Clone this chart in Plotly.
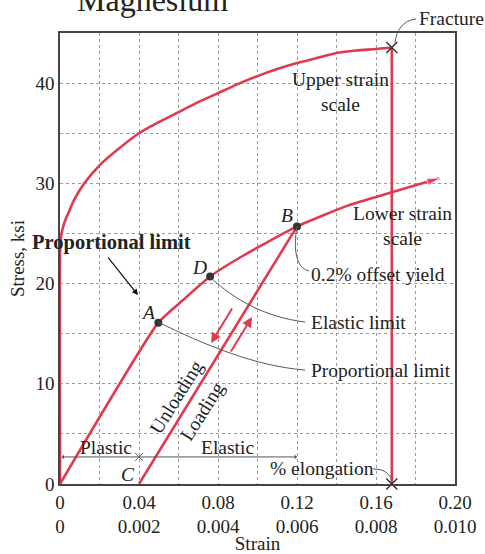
import plotly.graph_objects as go

RED = "#e03a4f"
INK = "#222222"
LEAD = "#5a5a5a"
GRID = "#9a9a9a"
FONT = "Liberation Serif"

# Upper strain scale (0 - 0.20): whole curve up to fracture
upper_strain = [0, 0, 0.0005, 0.0015, 0.003, 0.0042, 0.007, 0.0123, 0.02, 0.03,
                0.04, 0.05, 0.06, 0.07, 0.08, 0.09, 0.10, 0.11, 0.12, 0.13,
                0.14, 0.15, 0.16, 0.168]
upper_stress = [0, 23.0, 24.6, 25.6, 26.5, 27.0, 28.3, 30.0, 31.8, 33.5,
                35.0, 36.1, 37.1, 38.1, 39.0, 39.9, 40.7, 41.4, 42.0, 42.5,
                43.0, 43.25, 43.4, 43.55]

# Lower strain scale (0 - 0.010): initial part of the curve
lower_strain = [0, 0.00249, 0.0031, 0.0038, 0.0046, 0.0060, 0.0073, 0.0084, 0.0096]
lower_stress = [0, 16.1, 18.3, 20.7, 22.7, 25.7, 27.8, 29.1, 30.5]

# Marked points on the lower-scale curve
point_names = ["A", "D", "B"]
point_strain = [0.00249, 0.0038, 0.0060]
point_stress = [16.1, 20.7, 25.7]

# 0.2% offset line: unloading / reloading from C to B
offset_strain = [0.002, 0.0060]
offset_stress = [0, 25.7]

# Fracture (upper scale)
fracture_strain = 0.168
fracture_stress = 43.55

# Elongation bracket
bracket_stress = 2.7
bracket_end = 0.12
bracket_mark = 0.04

# Axis ticks
upper_ticks = [0, 0.04, 0.08, 0.12, 0.16, 0.20]
upper_tick_text = ["0", "0.04", "0.08", "0.12", "0.16", "0.20"]
lower_tick_text = ["0", "0.002", "0.004", "0.006", "0.008", "0.010"]
stress_ticks = [0, 10, 20, 30, 40]

fig = go.Figure()

# upper-scale curve
fig.add_trace(go.Scatter(
    x=upper_strain, y=upper_stress, mode="lines",
    line=dict(color=RED, width=2.6, shape="spline", smoothing=0.6),
    hoverinfo="skip"))

# drop line at fracture
fig.add_trace(go.Scatter(
    x=[fracture_strain, fracture_strain], y=[0, fracture_stress], mode="lines",
    line=dict(color=RED, width=2.6), hoverinfo="skip"))

# lower-scale curve, ending in an arrow head
n = len(lower_strain)
fig.add_trace(go.Scatter(
    x=lower_strain, y=lower_stress, xaxis="x2", mode="lines+markers",
    line=dict(color=RED, width=2.6, shape="spline", smoothing=0.5),
    marker=dict(symbol=["circle"] * (n - 1) + ["arrow"],
                size=[0] * (n - 1) + [13], color=RED, angleref="previous"),
    hoverinfo="skip"))

# offset line C-B
fig.add_trace(go.Scatter(
    x=offset_strain, y=offset_stress, xaxis="x2", mode="lines",
    line=dict(color=RED, width=2.6), hoverinfo="skip"))

# points A, D, B
fig.add_trace(go.Scatter(
    x=point_strain, y=point_stress, xaxis="x2", mode="markers",
    marker=dict(color="#333333", size=8), hoverinfo="skip"))

# fracture crosses
fig.add_trace(go.Scatter(
    x=[fracture_strain, fracture_strain], y=[fracture_stress, 0], mode="markers",
    marker=dict(symbol="x-thin-open", size=11, color="#333333",
                line=dict(color="#333333", width=1.5)),
    cliponaxis=False, hoverinfo="skip"))

# small cross on the elongation bracket
fig.add_trace(go.Scatter(
    x=[bracket_mark], y=[bracket_stress], mode="markers",
    marker=dict(symbol="x-thin-open", size=8, color="#666666",
                line=dict(color="#666666", width=1)),
    hoverinfo="skip"))

# leader lines from the labels to the curve
leaders = [
    "M 0.0496,16.16 C 0.0734,13.87 0.0987,11.77 0.1241,11.37",   # A
    "M 0.0759,20.65 C 0.0886,18.35 0.1038,16.66 0.1241,16.16",   # D
    "M 0.1200,25.74 C 0.1180,23.34 0.1195,21.55 0.1261,21.25",   # B
    "M 0.1585,1.50 C 0.1646,1.50 0.1671,1.00 0.1686,0.10",       # elongation
]
shapes = [dict(type="path", path=p, xref="x", yref="y",
               line=dict(color=LEAD, width=1)) for p in leaders]
shapes.append(dict(type="path", xref="paper", yref="paper",
                   path="M 0.9013,1.0310 C 0.8684,1.0288 0.8506,1.0044 0.8481,0.9778",
                   line=dict(color=LEAD, width=1)))

def text(x, y, s, size=19.5, **kw):
    kw.setdefault("xanchor", "center")
    kw.setdefault("yanchor", "middle")
    return dict(x=x, y=y, text=s, showarrow=False,
                font=dict(family=FONT, size=size, color=INK), **kw)

ann = [
    text(0.1418, 39.1, "Upper strain<br>scale"),
    text(0.1732, 25.7, "Lower strain<br>scale"),
    text(0.1261, 20.95, "0.2% offset yield", xanchor="left"),
    text(0.1261, 16.16, "Elastic limit", xanchor="left"),
    text(0.1261, 11.37, "Proportional limit", xanchor="left"),
    text(0.0446, 17.16, "<i>A</i>"),
    text(0.0704, 21.65, "<i>D</i>"),
    text(0.1149, 26.83, "<i>B</i>"),
    text(0.0344, 0.9, "<i>C</i>"),
    text(0.0233, 3.69, "Plastic"),
    text(0.0846, 3.69, "Elastic"),
    text(0.1327, 1.5, "% elongation"),
    text(0.0591, 8.71, "Unloading", textangle=-58),
    text(0.0720, 7.21, "Loading", textangle=-58),
    text(0.0261, 24.14, "<b>Proportional limit</b>", size=20.5),
    text(0.99, 1.033, "Fracture", xref="paper", yref="paper"),
    text(0.233, 1.073, "Magnesium", size=32, xref="paper", yref="paper"),
]

# arrows
ann += [
    dict(x=0.0395, y=18.85, ax=0.0238, ay=22.74, axref="x", ayref="y", text="",
         showarrow=True, arrowhead=2, arrowsize=1, arrowwidth=1.2, arrowcolor="#111111"),
    dict(x=0.0765, y=14.07, ax=0.0876, ay=17.66, axref="x", ayref="y", text="",
         showarrow=True, arrowhead=2, arrowsize=1, arrowwidth=2, arrowcolor=RED),
    dict(x=0.0972, y=16.66, ax=0.0861, ay=13.07, axref="x", ayref="y", text="",
         showarrow=True, arrowhead=2, arrowsize=1, arrowwidth=2, arrowcolor=RED),
    dict(x=bracket_end, y=bracket_stress, ax=0, ay=bracket_stress, axref="x", ayref="y",
         text="", showarrow=True, arrowhead=1, arrowside="end+start", arrowsize=0.8,
         arrowwidth=1, arrowcolor="#555555"),
]

tick_text = [f"{u}<br>{l}" for u, l in zip(upper_tick_text, lower_tick_text)]

fig.update_layout(
    width=485, height=554,
    margin=dict(l=60, r=30, t=33, b=70),
    paper_bgcolor="white", plot_bgcolor="white",
    showlegend=False,
    font=dict(family=FONT, size=19, color=INK),
    shapes=shapes, annotations=ann,
    xaxis=dict(
        range=[0, 0.20], tickmode="array", tickvals=upper_ticks, ticktext=tick_text,
        showgrid=True, gridcolor=GRID, griddash="dot", gridwidth=1,
        minor=dict(tickmode="linear", tick0=0, dtick=0.02, showgrid=True,
                   gridcolor=GRID, griddash="dot", gridwidth=1),
        showline=True, mirror=True, linecolor="#444444", linewidth=1.5,
        ticks="", zeroline=False, automargin=False,
        title=dict(text="Strain", standoff=2, font=dict(size=19)),
    ),
    xaxis2=dict(range=[0, 0.010], overlaying="x", visible=False),
    yaxis=dict(
        range=[0, 45], tickmode="array", tickvals=stress_ticks,
        ticktext=[str(v) for v in stress_ticks],
        showgrid=True, gridcolor=GRID, griddash="dot", gridwidth=1,
        minor=dict(tickmode="linear", tick0=0, dtick=5, showgrid=True,
                   gridcolor=GRID, griddash="dot", gridwidth=1),
        showline=True, mirror=True, linecolor="#444444", linewidth=1.5,
        ticks="", zeroline=False, automargin=False,
        title=dict(text="Stress, ksi", standoff=6, font=dict(size=19)),
    ),
)

fig.write_html("out.html")
